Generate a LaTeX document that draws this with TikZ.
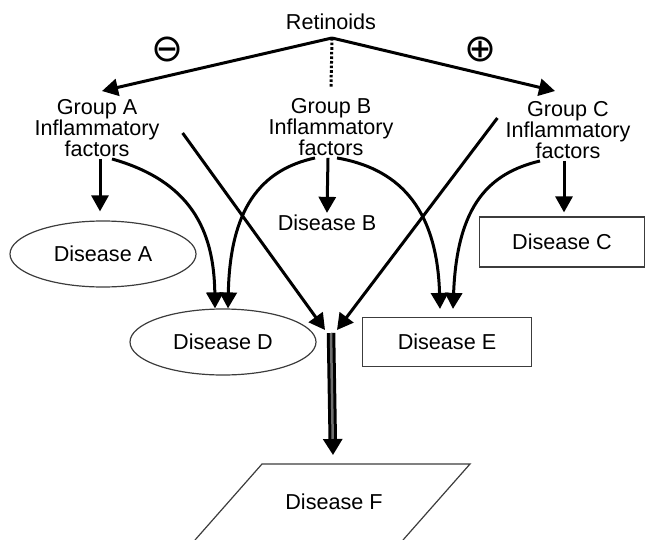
\documentclass[tikz,border=0pt]{standalone}
\usepackage{fontspec}
\setmainfont{Liberation Sans}
\newfontfamily\symfont{DejaVu Sans}
\usetikzlibrary{arrows.meta,shapes.geometric}
\definecolor{EdgeGray}{RGB}{60,60,60}
\definecolor{StemGray}{RGB}{110,110,110}
\newcommand{\bigsign}[1]{\resizebox{32pt}{!}{\symfont #1}}
\tikzset{
  lbl/.style={font=\fontsize{21.6}{19}\selectfont, align=center, inner sep=2pt},
  sign/.style={inner sep=0pt},
  oval/.style={ellipse, draw=EdgeGray, line width=1.2pt, minimum width=186pt,
               minimum height=66pt, inner sep=0pt, font=\fontsize{21.6}{19}\selectfont},
  rectbox/.style={rectangle, draw=EdgeGray, line width=1.2pt, inner sep=0pt,
                  font=\fontsize{21.6}{19}\selectfont},
  arr/.style={-{Triangle[length=16pt,width=17pt]}, line width=3pt},
  dotline/.style={line width=3pt, dash pattern=on 2.6pt off 2pt},
  stemline/.style={-{Triangle[length=16pt,width=19pt]}, line width=3pt,
                   double=StemGray, double distance=2.5pt}
}

\begin{document}
\begin{tikzpicture}[x=1pt,y=-1pt]
\useasboundingbox (0,0) rectangle (647,540);
\node[lbl] (ret) at (331,22) {Retinoids};
\coordinate (top) at (332,38);
\node[sign] (minus) at (167,50) {\bigsign{⊖}};
\node[sign] (plus) at (480,50) {\bigsign{⊕}};
\node[lbl] (gA) at (97,128) {Group A\\Inflammatory\\factors};
\node[lbl] (gB) at (331,127) {Group B\\Inflammatory\\factors};
\node[lbl] (gC) at (568,130) {Group C\\Inflammatory\\factors};
\node[oval] (disA) at (103,254) {Disease A};
\node[lbl] (disB) at (327,223) {Disease B};
\node[rectbox, minimum width=165pt, minimum height=50pt] (disC) at (562,242) {Disease C};
\node[oval] (disD) at (223,342) {Disease D};
\node[rectbox, minimum width=169pt, minimum height=49pt] (disE) at (447,342) {Disease E};
\node[lbl] (disF) at (334,502) {Disease F};
\coordinate (hub) at (331,333);
\coordinate (fTop) at (333,464);

% retinoids to the groups
\draw[arr] (top) -- ([xshift=5pt,yshift=6pt]gA.north);
\draw[arr] (top) -- ([xshift=-13pt,yshift=8pt]gC.north);
\draw[dotline] (top) -- ([yshift=9pt]gB.north);

% groups to diseases
\draw[arr] ([xshift=3pt]gA.south) -- ([xshift=-3pt,yshift=9pt]disA.north);
\draw[arr] ([xshift=-3pt]gB.south) -- (disB.north);
\draw[arr] ([xshift=-4pt]gC.south) -- ([xshift=2pt,yshift=4pt]disC.north);
\draw[arr] ([xshift=15pt]gA.south) .. controls +(78,22) and +(-1,-79) .. ([xshift=-8pt]disD.north);
\draw[arr] ([xshift=-16pt]gB.south) .. controls +(-55,12) and +(2,-99) .. ([xshift=5pt]disD.north);
\draw[arr] ([xshift=6pt]gB.south) .. controls +(58,10) and +(-3,-105) .. ([xshift=-7pt,yshift=8pt]disE.north);
\draw[arr] ([xshift=-28pt]gC.south) .. controls +(-50,12) and +(4,-105) .. ([xshift=6pt,yshift=8pt]disE.north);
\draw[arr] ([xshift=21pt,yshift=-5pt]gA.east) -- ([xshift=-6pt,yshift=3pt]hub);
\draw[arr] ([xshift=-6pt,yshift=12pt]gC.west) -- ([xshift=6pt,yshift=3pt]hub);
\draw[stemline] (hub) -- ([yshift=9pt]fTop);

% disease F
\draw[EdgeGray, line width=1.2pt] (195,540) -- (262,464) -- (470,464) -- (403,540);
\end{tikzpicture}
\end{document}
